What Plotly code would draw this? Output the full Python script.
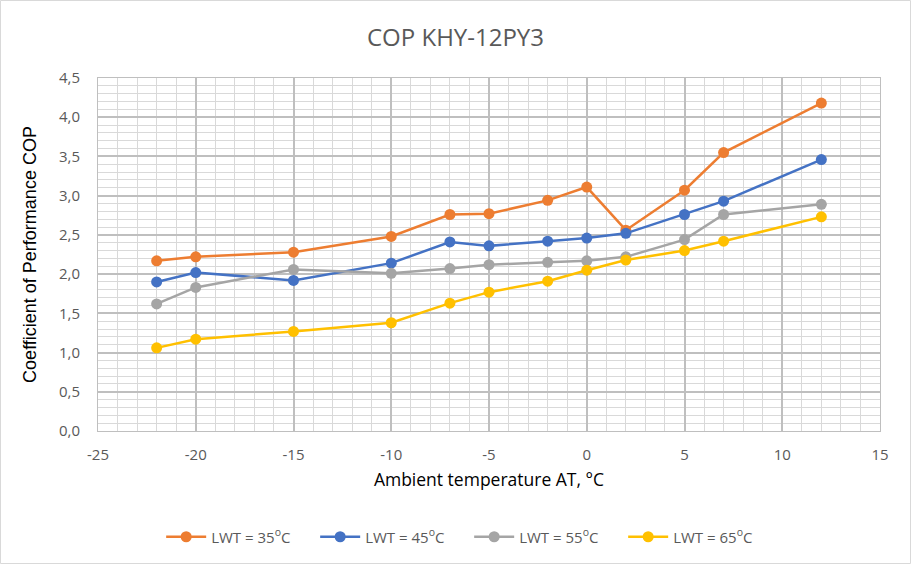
import plotly.graph_objects as go

temps = [-22, -20, -15, -10, -7, -5, -2, 0, 2, 5, 7, 12]
cop_35 = [2.17, 2.22, 2.28, 2.48, 2.76, 2.77, 2.94, 3.11, 2.56, 3.07, 3.55, 4.18]
cop_45 = [1.90, 2.02, 1.92, 2.14, 2.41, 2.36, 2.42, 2.46, 2.52, 2.76, 2.93, 3.46]
cop_55 = [1.62, 1.83, 2.06, 2.01, 2.07, 2.12, 2.15, 2.17, 2.22, 2.44, 2.76, 2.89]
cop_65 = [1.06, 1.17, 1.27, 1.38, 1.63, 1.77, 1.91, 2.05, 2.18, 2.30, 2.42, 2.73]

x_tick_values = [-25, -20, -15, -10, -5, 0, 5, 10, 15]
x_tick_labels = ["-25", "-20", "-15", "-10", "-5", "0", "5", "10", "15"]

series_names = ["LWT = 35<sup>o</sup>C", "LWT = 45<sup>o</sup>C",
                "LWT = 55<sup>o</sup>C", "LWT = 65<sup>o</sup>C"]
series_values = [cop_35, cop_45, cop_55, cop_65]
colors = ["#ED7D31", "#4472C4", "#A5A5A5", "#FFC000"]

FONT = "Open Sans, sans-serif"
FONT_Y = "Liberation Sans, Arial, sans-serif"

fig = go.Figure()
for name, vals, c in zip(series_names, series_values, colors):
    fig.add_trace(go.Scatter(
        x=temps, y=vals, name=name, mode="lines+markers",
        line=dict(color=c, width=2.5),
        marker=dict(color=c, size=11),
    ))

W, H = 911, 564
ml, mr, mt, mb = 98, 31, 78, 133
pw, ph = W - ml - mr, H - mt - mb

fig.update_layout(
    width=W, height=H,
    margin=dict(l=ml, r=mr, t=mt, b=mb, autoexpand=False),
    paper_bgcolor="white", plot_bgcolor="white",
    separators=", ",
    font=dict(family=FONT, color="#595959", size=15),
    title=dict(text="COP KHY-12PY3", x=0.5, xref="container", xanchor="center",
               y=1 - 38 / H, yref="container", yanchor="middle",
               font=dict(size=24, color="#595959", family=FONT)),
    showlegend=True,
    legend=dict(orientation="h", xref="container", x=0.515, xanchor="center",
                yref="container", y=1 - 537 / H, yanchor="middle",
                font=dict(size=15, color="#595959", family=FONT),
                itemwidth=40, entrywidth=99, entrywidthmode="pixels",
                tracegroupgap=0, bgcolor="rgba(0,0,0,0)"),
    shapes=[dict(type="rect", xref="paper", yref="paper",
                 x0=(0.5 - ml) / pw, x1=(W - 0.5 - ml) / pw,
                 y0=-(H - 0.5 - mt - ph) / ph, y1=1 + (mt - 0.5) / ph,
                 line=dict(color="#D9D9D9", width=1), layer="below")],
)

fig.update_xaxes(
    range=[-25, 15], tickmode="array", tickvals=x_tick_values, ticktext=x_tick_labels,
    showgrid=True, gridcolor="#BFBFBF", gridwidth=1.5,
    minor=dict(dtick=1, tick0=-25, showgrid=True, gridcolor="#D9D9D9", gridwidth=1),
    showline=True, linecolor="#BFBFBF", linewidth=1, mirror=True,
    zeroline=False, ticks="", ticklabelstandoff=10,
    tickfont=dict(size=15, color="#595959", family=FONT),
    title=dict(text="Ambient temperature AT, °C", standoff=10,
               font=dict(size=17.5, color="#000000", family=FONT)),
)
fig.update_yaxes(
    range=[0, 4.5], dtick=0.5, tick0=0, tickformat=".1f",
    showgrid=True, gridcolor="#BFBFBF", gridwidth=1.5,
    minor=dict(dtick=0.1, showgrid=True, gridcolor="#D9D9D9", gridwidth=1),
    showline=True, linecolor="#BFBFBF", linewidth=1, mirror=True,
    zeroline=False, ticks="", ticklabelstandoff=14,
    tickfont=dict(size=15, color="#595959", family=FONT),
    title=dict(text="Coefficient of Performance COP", standoff=17,
               font=dict(size=18, color="#000000", family=FONT_Y)),
)

fig.write_html("out.html", config={"displayModeBar": False},
               post_script="document.body.style.margin='0';")
